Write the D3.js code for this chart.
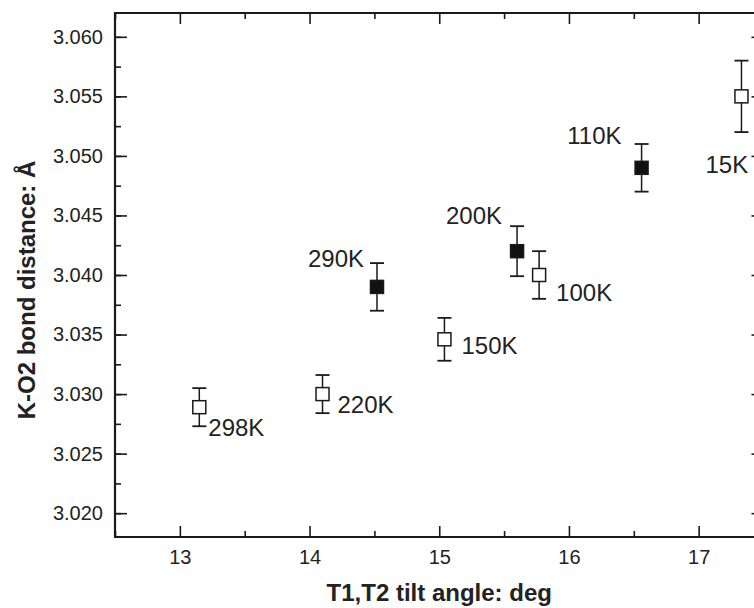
<!DOCTYPE html>
<html>
<head>
<meta charset="utf-8">
<script src="https://cdn.jsdelivr.net/npm/d3@7"></script>
<style>
  html, body { margin: 0; padding: 0; background: #fff; overflow: hidden; }
  svg { display: block; font-family: "Liberation Sans", Arial, sans-serif; }
  .axis text { font-size: 20px; fill: #222; }
  .axis line { stroke: #1a1a1a; stroke-width: 1.6; }
  .axis path.domain { display: none; }
  .pt-label { font-size: 24px; fill: #222; }
  .title { font-size: 24px; font-weight: bold; fill: #222; }
</style>
</head>
<body>
<div id="chart"></div>
<script>
// Temperatures, tilt angle (deg), K-O2 bond distance (A) and its error
const temps = ["298K", "220K", "290K", "150K", "200K", "100K", "110K", "15K"];
const tiltAngle = [13.15, 14.10, 14.52, 15.04, 15.60, 15.77, 16.56, 17.33];
const bondDist = [3.0289, 3.0300, 3.0390, 3.0346, 3.0420, 3.0400, 3.0490, 3.0550];
const bondErr = [0.0016, 0.0016, 0.0020, 0.0018, 0.0021, 0.0020, 0.0020, 0.0030];
// filled squares vs open squares
const filled = [false, false, true, false, true, false, true, false];

// label placement relative to each marker (pixels)
const labelOffsets = [
  [9, 29, "start"], [15, 19, "start"], [-13, -20, "end"], [17, 15, "start"],
  [-15, -27, "end"], [17, 26, "start"], [-20, -24, "end"], [-36, 77, "start"]
];

const xTicks = [13, 14, 15, 16, 17];
const yTicks = [3.020, 3.025, 3.030, 3.035, 3.040, 3.045, 3.050, 3.055, 3.060];

const width = 754, height = 608;
const margin = { top: 13, left: 115 };
const innerW = 648.5, innerH = 524;

const svg = d3.select("#chart").append("svg")
  .attr("width", width)
  .attr("height", height);

const g = svg.append("g")
  .attr("transform", `translate(${margin.left},${margin.top})`);

const x = d3.scaleLinear().domain([12.5, 17.5]).range([0, innerW]);
const y = d3.scaleLinear().domain([3.018, 3.062]).range([innerH, 0]);

const xMinor = d3.range(12.5, 17.51, 0.5).filter(v => !xTicks.includes(v));
const yMinor = d3.range(3.0175, 3.0621, 0.0025).filter(v => y(v) > 2 && y(v) < innerH - 2);

// major ticks with labels
g.append("g").attr("class", "axis")
  .attr("transform", `translate(0,${innerH})`)
  .call(d3.axisBottom(x).tickValues(xTicks).tickSize(-11).tickPadding(13).tickFormat(d3.format("d")));
g.append("g").attr("class", "axis")
  .call(d3.axisLeft(y).tickValues(yTicks).tickSize(-12).tickPadding(12).tickFormat(d3.format(".3f")));
// top / right mirrored ticks
g.append("g").attr("class", "axis")
  .call(d3.axisTop(x).tickValues(xTicks).tickSize(-11).tickFormat(""));
g.append("g").attr("class", "axis")
  .attr("transform", `translate(${innerW},0)`)
  .call(d3.axisRight(y).tickValues(yTicks).tickSize(-12).tickFormat(""));
// minor ticks
g.append("g").attr("class", "axis")
  .attr("transform", `translate(0,${innerH})`)
  .call(d3.axisBottom(x).tickValues(xMinor).tickSize(-6).tickFormat(""));
g.append("g").attr("class", "axis")
  .call(d3.axisTop(x).tickValues(xMinor).tickSize(-6).tickFormat(""));
g.append("g").attr("class", "axis")
  .call(d3.axisLeft(y).tickValues(yMinor).tickSize(-6).tickFormat(""));
g.append("g").attr("class", "axis")
  .attr("transform", `translate(${innerW},0)`)
  .call(d3.axisRight(y).tickValues(yMinor).tickSize(-6).tickFormat(""));

// frame
g.append("path")
  .attr("d", `M0,0H${innerW}V${innerH}H0Z`)
  .style("fill", "none")
  .style("stroke", "#1a1a1a")
  .style("stroke-width", "2.2px");

// axis titles
svg.append("text")
  .attr("class", "title")
  .attr("x", margin.left + innerW / 2)
  .attr("y", 601)
  .attr("text-anchor", "middle")
  .text("T1,T2 tilt angle: deg");

svg.append("text")
  .attr("class", "title")
  .attr("transform", "translate(35,290) rotate(-90)")
  .attr("text-anchor", "middle")
  .text("K-O2 bond distance: Å");

// data
const data = temps.map((t, i) => ({
  t, x: tiltAngle[i], y: bondDist[i], err: bondErr[i], filled: filled[i], off: labelOffsets[i]
}));

const pts = g.selectAll(".pt").data(data).join("g")
  .attr("class", "pt")
  .attr("transform", d => `translate(${x(d.x)},0)`);

const cap = 7;
pts.append("line")
  .attr("y1", d => y(d.y + d.err)).attr("y2", d => y(d.y - d.err))
  .attr("stroke", "#1a1a1a").attr("stroke-width", 1.5);
pts.append("line")
  .attr("x1", -cap).attr("x2", cap)
  .attr("y1", d => y(d.y + d.err)).attr("y2", d => y(d.y + d.err))
  .attr("stroke", "#1a1a1a").attr("stroke-width", 1.8);
pts.append("line")
  .attr("x1", -cap).attr("x2", cap)
  .attr("y1", d => y(d.y - d.err)).attr("y2", d => y(d.y - d.err))
  .attr("stroke", "#1a1a1a").attr("stroke-width", 1.8);

const s = 13;
pts.append("rect")
  .attr("x", -s / 2)
  .attr("y", d => y(d.y) - s / 2)
  .attr("width", s).attr("height", s)
  .attr("fill", d => d.filled ? "#111" : "#fff")
  .attr("stroke", "#1a1a1a").attr("stroke-width", 1.5);

pts.append("text")
  .attr("class", "pt-label")
  .attr("x", d => d.off[0])
  .attr("y", d => y(d.y) + d.off[1])
  .attr("text-anchor", d => d.off[2])
  .text(d => d.t);
</script>
</body>
</html>
